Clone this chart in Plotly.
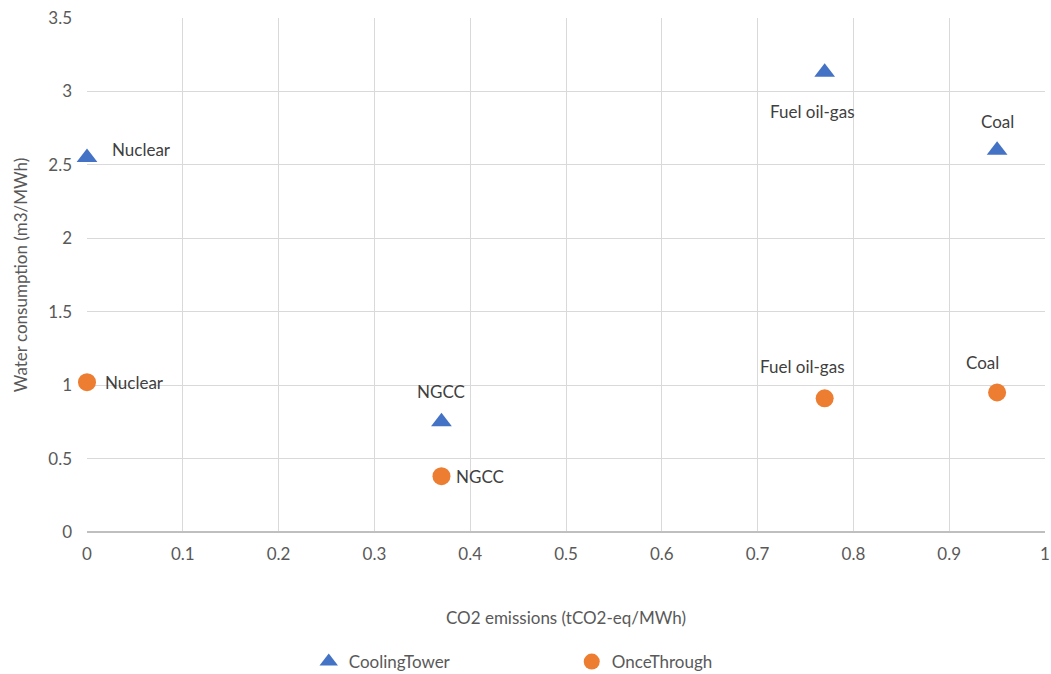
import plotly.graph_objects as go

technologies = ["Nuclear", "NGCC", "Fuel oil-gas", "Coal"]
co2 = [0.0, 0.37, 0.77, 0.95]
water_cooling_tower = [2.55, 0.75, 3.13, 2.60]
water_once_through = [1.02, 0.38, 0.91, 0.95]

# label offsets (pixels) per point
ct_shift = [(54, 8), (0, 30), (-12, -39), (0, 29)]
ot_shift = [(47, 0), (39, 0), (-22, 32), (-15, 30)]

BLUE = "#4472C4"
ORANGE = "#ED7D31"
TXT = "#595959"
FONT = "Lato, 'Open Sans', sans-serif"

fig = go.Figure()
fig.add_trace(go.Scatter(x=co2, y=water_cooling_tower, mode="markers", name="CoolingTower",
                         cliponaxis=False,
                         marker=dict(symbol="triangle-up", size=18, color=BLUE)))
fig.add_trace(go.Scatter(x=co2, y=water_once_through, mode="markers", name="OnceThrough",
                         cliponaxis=False,
                         marker=dict(symbol="circle", size=18, color=ORANGE)))

anns = []
for t, x, y, (dx, dy) in zip(technologies, co2, water_cooling_tower, ct_shift):
    anns.append(dict(x=x, y=y, text=t, showarrow=False, xshift=dx, yshift=dy,
                     font=dict(size=17, color="#404040", family=FONT)))
for t, x, y, (dx, dy) in zip(technologies, co2, water_once_through, ot_shift):
    anns.append(dict(x=x, y=y, text=t, showarrow=False, xshift=dx, yshift=dy,
                     font=dict(size=17, color="#404040", family=FONT)))

fig.update_layout(
    width=1051, height=674,
    margin=dict(l=87, r=6, t=18, b=142, autoexpand=False),
    paper_bgcolor="white", plot_bgcolor="white",
    font=dict(family=FONT, size=17, color=TXT),
    annotations=anns,
    showlegend=True,
    legend=dict(orientation="h", x=0.544, xanchor="center", xref="container",
                y=12 / 674, yanchor="middle", yref="container",
                entrywidth=218, entrywidthmode="pixels",
                font=dict(size=17, color=TXT, family=FONT)),
    xaxis=dict(range=[0, 1], dtick=0.1, showgrid=True, gridcolor="#D9D9D9",
               zeroline=False, showline=False, ticks="", ticklabelstandoff=10,
               tickfont=dict(size=17, color=TXT),
               title=dict(text="CO2 emissions (tCO2-eq/MWh)", standoff=49,
                          font=dict(size=17, color=TXT))),
    yaxis=dict(range=[0, 3.5], dtick=0.5, showgrid=True, gridcolor="#D9D9D9",
               zeroline=True, zerolinecolor="#BFBFBF", zerolinewidth=1.5,
               showline=False, ticks="", ticklabelstandoff=14,
               tickfont=dict(size=17, color=TXT),
               title=dict(text="Water consumption (m3/MWh)", standoff=16,
                          font=dict(size=17, color=TXT))),
)

fig.write_html("out.html")
